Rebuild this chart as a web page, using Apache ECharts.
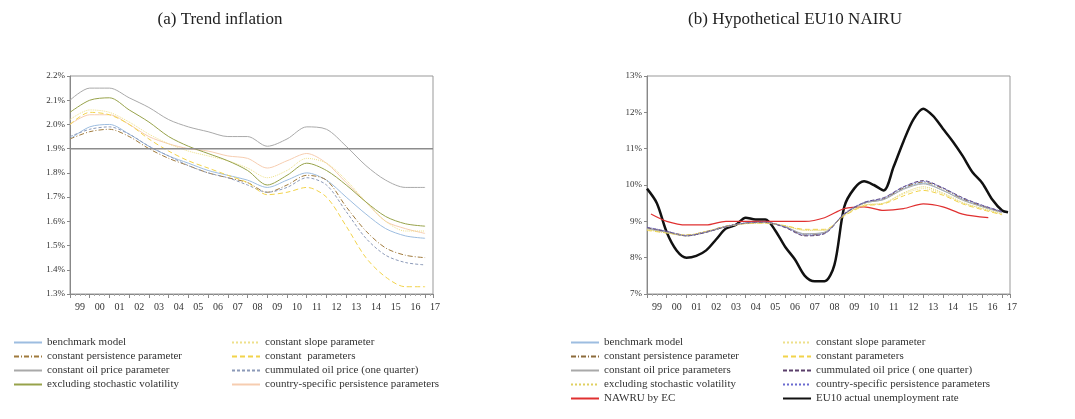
<!DOCTYPE html>
<html><head><meta charset="utf-8">
<script src="https://cdn.jsdelivr.net/npm/echarts@6/dist/echarts.min.js"></script>
<style>html,body{margin:0;padding:0;background:#fff}#c{width:1075px;height:419px}</style>
</head><body><div id="c"></div>
<script>
// yearly points, 1999..2017
var years = [1999,2000,2001,2002,2003,2004,2005,2006,2007,2008,2009,2010,2011,2012,2013,2014,2015,2016,2017];

// (a) trend inflation, %
var benchmarkA   = [1.94,1.99,2.00,1.96,1.91,1.87,1.84,1.81,1.79,1.77,1.74,1.77,1.80,1.77,1.70,1.63,1.57,1.54,1.53];
var slopeA       = [2.02,2.06,2.05,2.01,1.96,1.92,1.89,1.87,1.85,1.82,1.78,1.81,1.86,1.84,1.77,1.68,1.60,1.56,1.56];
var persistA     = [1.94,1.97,1.98,1.95,1.90,1.86,1.83,1.80,1.78,1.76,1.72,1.75,1.79,1.77,1.66,1.56,1.49,1.46,1.45];
var constParA    = [2.00,2.05,2.04,2.00,1.94,1.89,1.85,1.82,1.79,1.76,1.71,1.72,1.74,1.70,1.58,1.45,1.37,1.33,1.33];
var oilA         = [2.10,2.15,2.15,2.11,2.07,2.02,1.99,1.97,1.95,1.95,1.91,1.94,1.99,1.98,1.91,1.83,1.77,1.74,1.74];
var cumOilA      = [1.95,1.98,1.99,1.96,1.91,1.87,1.83,1.80,1.78,1.75,1.72,1.74,1.78,1.75,1.64,1.53,1.46,1.43,1.42];
var exclSvA      = [2.05,2.10,2.11,2.06,2.01,1.95,1.91,1.88,1.85,1.81,1.75,1.79,1.84,1.81,1.75,1.68,1.62,1.59,1.58];
var countryA     = [2.00,2.04,2.04,2.00,1.95,1.92,1.90,1.89,1.87,1.86,1.82,1.85,1.88,1.84,1.76,1.68,1.60,1.57,1.55];

// (b) NAIRU, %
var benchmarkB   = [8.80,8.70,8.60,8.70,8.85,8.95,8.97,8.85,8.65,8.70,9.20,9.50,9.60,9.90,10.05,9.85,9.60,9.40,9.25];
var slopeB       = [8.78,8.68,8.60,8.70,8.85,8.93,8.95,8.87,8.75,8.75,9.18,9.45,9.50,9.75,9.90,9.75,9.50,9.35,9.20];
var persistB     = [8.82,8.72,8.62,8.72,8.87,8.95,8.97,8.85,8.62,8.68,9.20,9.50,9.62,9.92,10.08,9.90,9.62,9.42,9.25];
var constParB    = [8.75,8.68,8.62,8.72,8.86,8.94,8.95,8.88,8.78,8.78,9.15,9.42,9.48,9.70,9.85,9.72,9.48,9.32,9.18];
var oilB         = [8.80,8.70,8.60,8.70,8.85,8.95,8.97,8.85,8.66,8.70,9.20,9.50,9.60,9.88,10.03,9.85,9.58,9.40,9.24];
var cumOilB      = [8.83,8.72,8.60,8.70,8.85,8.95,8.97,8.83,8.60,8.66,9.20,9.52,9.65,9.95,10.12,9.92,9.65,9.44,9.27];
var exclSvB      = [8.77,8.68,8.62,8.72,8.86,8.94,8.96,8.88,8.76,8.76,9.16,9.44,9.50,9.78,9.95,9.78,9.52,9.35,9.20];
var countryB     = [8.84,8.73,8.61,8.71,8.86,8.96,8.98,8.84,8.62,8.67,9.22,9.52,9.64,9.95,10.10,9.92,9.64,9.44,9.27];
var nawruYears   = [1999.2,2000,2001,2002,2003,2004,2005,2006,2007,2008,2009,2010,2011,2012,2013,2014,2015,2016.3];
var nawru        = [9.20,9.00,8.90,8.90,9.00,9.00,9.00,9.00,9.00,9.10,9.35,9.40,9.30,9.35,9.48,9.40,9.20,9.10];
var halfYears    = [1999,1999.5,2000,2000.5,2001,2001.5,2002,2002.5,2003,2003.5,2004,2004.5,2005,2005.5,2006,2006.5,2007,2007.5,2008,2008.5,2009,2009.5,2010,2010.5,2011,2011.5,2012,2012.5,2013,2013.5,2014,2014.5,2015,2015.5,2016,2016.5,2017,2017.3];
var actualUR     = [9.9,9.5,8.7,8.2,8.0,8.05,8.2,8.5,8.8,8.9,9.1,9.05,9.05,8.75,8.3,7.95,7.5,7.35,7.35,7.8,9.4,9.9,10.1,10.0,9.85,10.5,11.2,11.8,12.1,11.9,11.55,11.2,10.8,10.35,10.05,9.6,9.3,9.25];

var font = 'Liberation Serif';
function pairs(xs, ys){ return xs.map(function(x, i){ return [x, ys[i]]; }); }
function line(name, xs, ys, idx, color, type, width){
    return {name: name, type: 'line', xAxisIndex: idx, yAxisIndex: idx, data: pairs(xs, ys),
        symbol: 'none', silent: true, smooth: 0.3,
        lineStyle: {color: color, type: type || 'solid', width: width || 1}, itemStyle: {color: color}};
}
function xAxis(idx){
    return {type: 'value', gridIndex: idx, min: 1999, max: 2017.4, interval: 1,
        axisLine: {onZero: false, lineStyle: {color: '#888'}},
        axisTick: {inside: false, length: 4, lineStyle: {color: '#888'}},
        minorTick: {show: true, splitNumber: 4, length: 2, lineStyle: {color: '#aaa'}},
        splitLine: {show: false}, showMaxLabel: false,
        axisLabel: {fontFamily: font, fontSize: 10, color: '#333', padding: [0, 0, 0, 20],
            formatter: function(v){ var y = v % 100; return (y < 10 ? '0' : '') + y; }}};
}
function yAxis(idx, min, max, interval, dec){
    return {type: 'value', gridIndex: idx, min: min, max: max, interval: interval,
        axisLine: {show: true, lineStyle: {color: '#888'}},
        axisTick: {show: true, length: 3, lineStyle: {color: '#888'}},
        splitLine: {show: false},
        axisLabel: {fontFamily: font, fontSize: 9, color: '#333', margin: 5,
            formatter: function(v){ return v.toFixed(dec) + '%'; }}};
}
function legend(names, left, top){
    return {data: names, left: left, top: top, orient: 'vertical', itemGap: 3,
        itemWidth: 28, itemHeight: 10, selectedMode: false,
        itemStyle: {opacity: 0},
        textStyle: {fontFamily: font, fontSize: 11, color: '#333'}};
}

var chart = echarts.init(document.getElementById('c'));
chart.setOption({
    animation: false,
    title: [
        {text: '(a) Trend inflation', left: 215, top: 6, textAlign: 'center',
            textStyle: {fontFamily: font, fontSize: 17, fontWeight: 'normal', color: '#222'}},
        {text: '(b) Hypothetical EU10 NAIRU', left: 790, top: 6, textAlign: 'center',
            textStyle: {fontFamily: font, fontSize: 17, fontWeight: 'normal', color: '#222'}}
    ],
    grid: [
        {left: 70, top: 76, width: 363, height: 218, show: true, borderColor: '#999', borderWidth: 1},
        {left: 647, top: 76, width: 363, height: 218, show: true, borderColor: '#999', borderWidth: 1}
    ],
    xAxis: [xAxis(0), xAxis(1)],
    yAxis: [yAxis(0, 1.3, 2.2, 0.1, 1), yAxis(1, 7, 13, 1, 0)],
    legend: [
        legend(['benchmark model', 'constant persistence parameter', 'constant oil price parameter', 'excluding stochastic volatility'], 8, 332),
        legend(['constant slope parameter', 'constant  parameters', 'cummulated oil price (one quarter)', 'country-specific persistence parameters'], 226, 332),
        legend(['benchmark model ', 'constant persistence parameter ', 'constant oil price parameters', 'excluding stochastic volatility ', 'NAWRU by EC'], 565, 332),
        legend(['constant slope parameter ', 'constant parameters', 'cummulated oil price ( one quarter)', 'country-specific persistence parameters ', 'EU10 actual unemployment rate'], 777, 332)
    ],
    series: [
        line('constant oil price parameter', years, oilA, 0, '#a9a9a9', 'solid'),
        line('country-specific persistence parameters', years, countryA, 0, '#f6cdb0', 'solid'),
        line('constant slope parameter', years, slopeA, 0, '#eee08a', 'dotted'),
        line('excluding stochastic volatility', years, exclSvA, 0, '#97a24a', 'solid'),
        line('benchmark model', years, benchmarkA, 0, '#9dbde0', 'solid'),
        line('constant persistence parameter', years, persistA, 0, '#a07a3c', [5, 2, 1, 2]),
        line('cummulated oil price (one quarter)', years, cumOilA, 0, '#8c9ab8', [3, 2]),
        line('constant  parameters', years, constParA, 0, '#f2d34a', [5, 3]),
        Object.assign(line('_ref19', [1999, 2017.4], [1.9, 1.9], 0, '#8c8c8c', 'solid', 1.5), {smooth: false}),

        line('EU10 actual unemployment rate', halfYears, actualUR, 1, '#111', 'solid', 2.5),
        line('NAWRU by EC', nawruYears, nawru, 1, '#e03030', 'solid', 1.2),
        line('benchmark model ', years, benchmarkB, 1, '#9dbde0', 'solid'),
        line('constant slope parameter ', years, slopeB, 1, '#eee08a', 'dotted'),
        line('constant persistence parameter ', years, persistB, 1, '#8c6a3a', [5, 2, 1, 2]),
        line('constant parameters', years, constParB, 1, '#f2d34a', [5, 3]),
        line('constant oil price parameters', years, oilB, 1, '#a9a9a9', 'solid'),
        line('cummulated oil price ( one quarter)', years, cumOilB, 1, '#5a3f6a', [4, 2]),
        line('excluding stochastic volatility ', years, exclSvB, 1, '#e0d060', 'dotted'),
        line('country-specific persistence parameters ', years, countryB, 1, '#6a6ad0', 'dotted')
    ]
});
</script>
</body></html>
